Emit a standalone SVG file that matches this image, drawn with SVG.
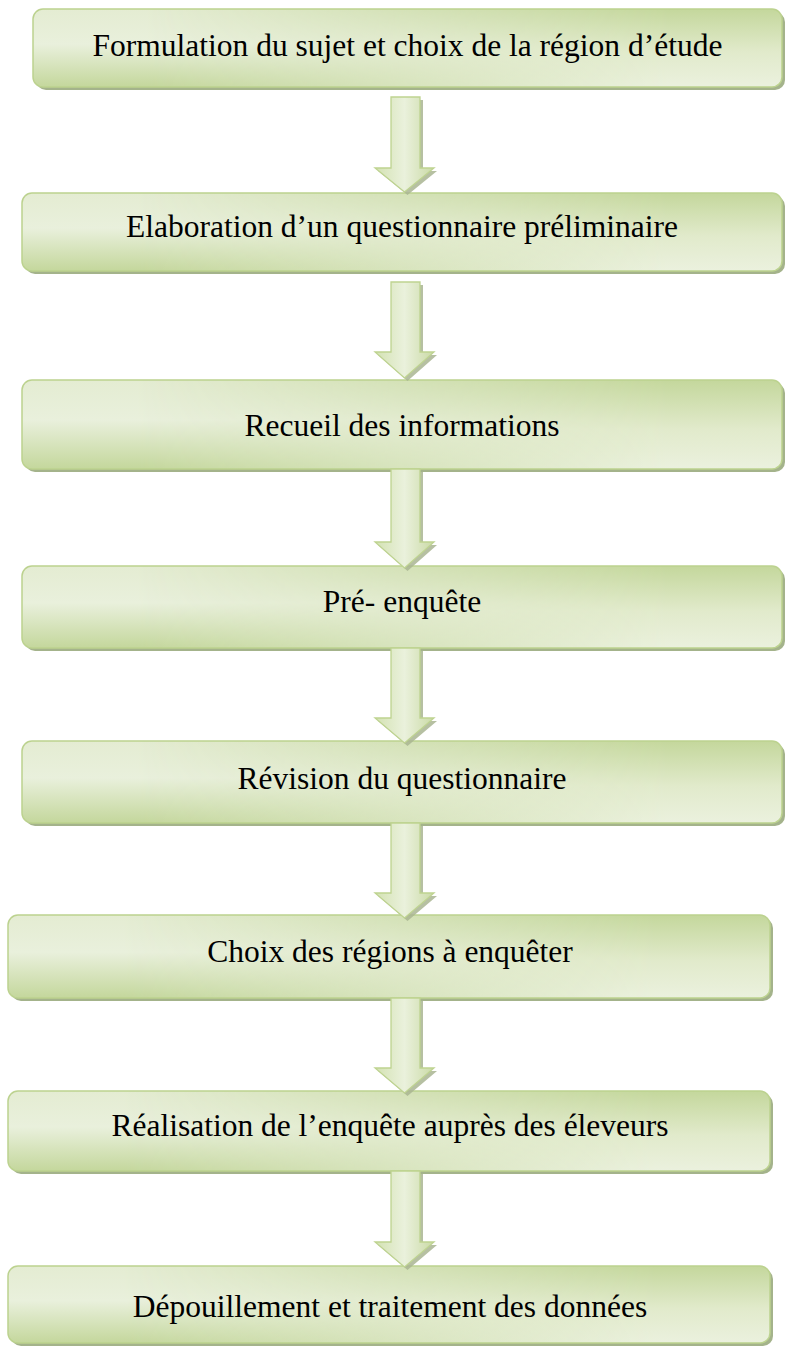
<svg xmlns="http://www.w3.org/2000/svg" width="785" height="1351" viewBox="0 0 785 1351">
<style>
.shadow{fill:#a4b38b;}
.b1{fill:url(#gv1);stroke:none;}
.b2{fill:url(#gv2);stroke:none;}
.edge{fill:none;stroke:#bcd28f;stroke-width:1.5;}
.lbl{font-family:"Liberation Serif","Times New Roman",serif;font-size:31.5px;fill:#000;text-anchor:middle;}
.arr{fill:url(#ga);stroke:#bed390;stroke-width:1.3;}
.arrs{fill:#a9b592;opacity:0.85;}
</style>
<defs>
<linearGradient id="gv1" x1="0" y1="0" x2="0" y2="1">
<stop offset="0" stop-color="#e4ecd2"/>
<stop offset="0.45" stop-color="#e9f0dc"/>
<stop offset="1" stop-color="#c4d79c"/>
</linearGradient>
<linearGradient id="gv2" x1="0" y1="0" x2="0" y2="1">
<stop offset="0" stop-color="#c4d79c"/>
<stop offset="0.55" stop-color="#e1eacb"/>
<stop offset="1" stop-color="#ebf1de"/>
</linearGradient>
<linearGradient id="gh" x1="0" y1="0" x2="1" y2="0">
<stop offset="0.15" stop-color="#000"/>
<stop offset="0.85" stop-color="#fff"/>
</linearGradient>
<mask id="m" maskContentUnits="objectBoundingBox">
<rect x="0" y="0" width="1" height="1" fill="url(#gh)"/>
</mask>
<linearGradient id="ga" x1="0" y1="0" x2="1" y2="0">
<stop offset="0" stop-color="#d3e2b2"/>
<stop offset="0.5" stop-color="#eaf1dc"/>
<stop offset="1" stop-color="#cadaa6"/>
</linearGradient>
</defs>

<g id="node1">
<rect class="shadow" x="36" y="12" width="749" height="78" rx="10"/>
<rect class="b1" x="33" y="9" width="749" height="78" rx="10"/>
<rect class="b2" x="33" y="9" width="749" height="78" rx="10" mask="url(#m)"/>
<rect class="edge" x="33" y="9" width="749" height="78" rx="10"/>
<text class="lbl" x="407.5" y="56">Formulation du sujet et choix de la région d’étude</text>
</g>

<g id="node2">
<rect class="shadow" x="25" y="196" width="760" height="78" rx="10"/>
<rect class="b1" x="22" y="193" width="760" height="78" rx="10"/>
<rect class="b2" x="22" y="193" width="760" height="78" rx="10" mask="url(#m)"/>
<rect class="edge" x="22" y="193" width="760" height="78" rx="10"/>
<text class="lbl" x="402" y="237">Elaboration d’un questionnaire préliminaire</text>
</g>

<g id="node3">
<rect class="shadow" x="25" y="383" width="760" height="89" rx="10"/>
<rect class="b1" x="22" y="380" width="760" height="89" rx="10"/>
<rect class="b2" x="22" y="380" width="760" height="89" rx="10" mask="url(#m)"/>
<rect class="edge" x="22" y="380" width="760" height="89" rx="10"/>
<text class="lbl" x="402" y="436">Recueil des informations</text>
</g>

<g id="node4">
<rect class="shadow" x="25" y="569" width="760" height="82" rx="10"/>
<rect class="b1" x="22" y="566" width="760" height="82" rx="10"/>
<rect class="b2" x="22" y="566" width="760" height="82" rx="10" mask="url(#m)"/>
<rect class="edge" x="22" y="566" width="760" height="82" rx="10"/>
<text class="lbl" x="402" y="612">Pré- enquête</text>
</g>

<g id="node5">
<rect class="shadow" x="25" y="744" width="760" height="82" rx="10"/>
<rect class="b1" x="22" y="741" width="760" height="82" rx="10"/>
<rect class="b2" x="22" y="741" width="760" height="82" rx="10" mask="url(#m)"/>
<rect class="edge" x="22" y="741" width="760" height="82" rx="10"/>
<text class="lbl" x="402" y="789">Révision du questionnaire</text>
</g>

<g id="node6">
<rect class="shadow" x="11" y="918" width="762" height="83" rx="10"/>
<rect class="b1" x="8" y="915" width="762" height="83" rx="10"/>
<rect class="b2" x="8" y="915" width="762" height="83" rx="10" mask="url(#m)"/>
<rect class="edge" x="8" y="915" width="762" height="83" rx="10"/>
<text class="lbl" x="390" y="962">Choix des régions à enquêter</text>
</g>

<g id="node7">
<rect class="shadow" x="11" y="1094" width="762" height="80" rx="10"/>
<rect class="b1" x="8" y="1091" width="762" height="80" rx="10"/>
<rect class="b2" x="8" y="1091" width="762" height="80" rx="10" mask="url(#m)"/>
<rect class="edge" x="8" y="1091" width="762" height="80" rx="10"/>
<text class="lbl" x="390" y="1136">Réalisation de l’enquête auprès des éleveurs</text>
</g>

<g id="node8">
<rect class="shadow" x="11" y="1269" width="762" height="77" rx="10"/>
<rect class="b1" x="8" y="1266" width="762" height="77" rx="10"/>
<rect class="b2" x="8" y="1266" width="762" height="77" rx="10" mask="url(#m)"/>
<rect class="edge" x="8" y="1266" width="762" height="77" rx="10"/>
<text class="lbl" x="390" y="1317">Dépouillement et traitement des données</text>
</g>

<g id="connectors">
<path class="arrs" d="M394,100 H423 V171 H437 L407.5,195 L378,171 H394 Z"/>
<path class="arr" d="M391,97 H420 V168 H434 L404.5,192 L375,168 H391 Z"/>
<path class="arrs" d="M394,285 H423 V355 H437 L407.5,381 L378,355 H394 Z"/>
<path class="arr" d="M391,282 H420 V352 H434 L404.5,378 L375,352 H391 Z"/>
<path class="arrs" d="M394,472 H423 V545 H437 L407.5,571 L378,545 H394 Z"/>
<path class="arr" d="M391,469 H420 V542 H434 L404.5,568 L375,542 H391 Z"/>
<path class="arrs" d="M394,651 H423 V721 H437 L407.5,746 L378,721 H394 Z"/>
<path class="arr" d="M391,648 H420 V718 H434 L404.5,743 L375,718 H391 Z"/>
<path class="arrs" d="M394,826 H423 V896 H437 L407.5,921 L378,896 H394 Z"/>
<path class="arr" d="M391,823 H420 V893 H434 L404.5,918 L375,893 H391 Z"/>
<path class="arrs" d="M394,1001 H423 V1071 H437 L407.5,1096 L378,1071 H394 Z"/>
<path class="arr" d="M391,998 H420 V1068 H434 L404.5,1093 L375,1068 H391 Z"/>
<path class="arrs" d="M394,1174 H423 V1245 H437 L407.5,1270 L378,1245 H394 Z"/>
<path class="arr" d="M391,1171 H420 V1242 H434 L404.5,1267 L375,1242 H391 Z"/>
</g>
</svg>
